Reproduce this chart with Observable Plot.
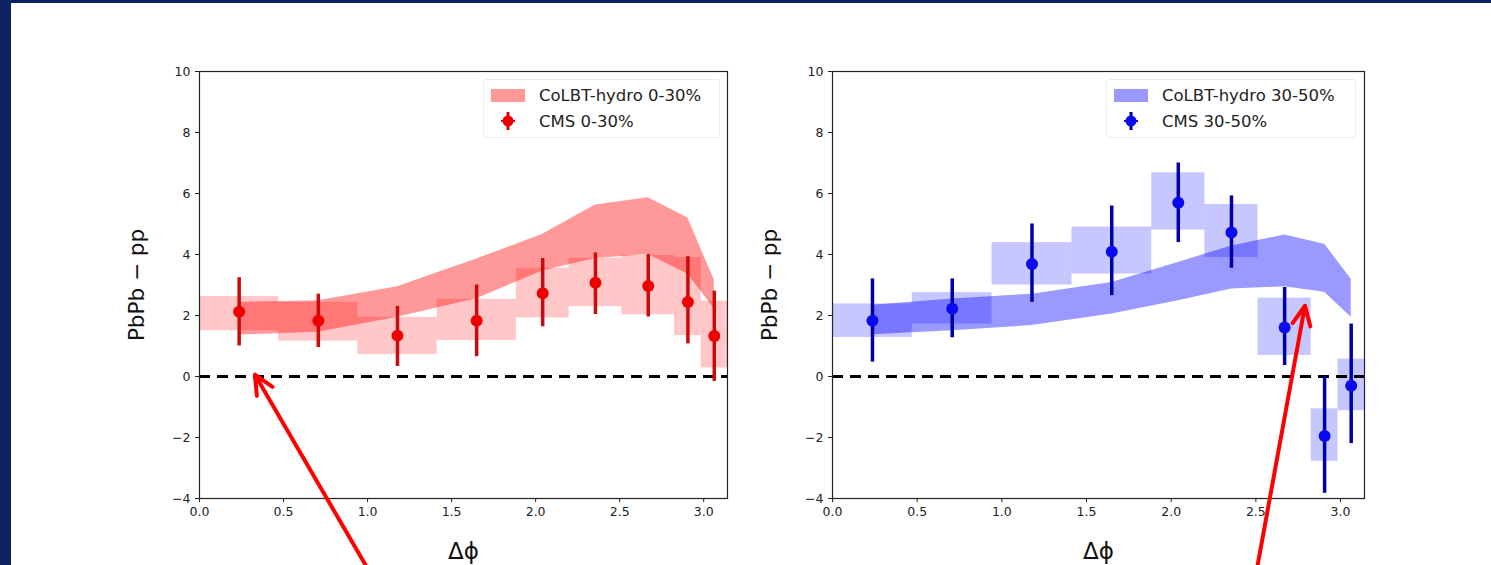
<!DOCTYPE html>
<html>
<head>
<meta charset="utf-8">
<script src="https://cdn.jsdelivr.net/npm/d3@7"></script>
<script src="https://cdn.jsdelivr.net/npm/@observablehq/plot@0.6"></script>
<style>
  html, body { margin: 0; padding: 0; }
  body { width: 1491px; height: 565px; background: #0b2263; position: relative; overflow: hidden; font-family: "DejaVu Sans", sans-serif; }
  #page { position: absolute; left: 11px; top: 3px; width: 1480px; height: 562px; background: #fff; }
  .panel { position: absolute; top: 40px; }
  .panel svg { overflow: visible; }
  .legend { position: absolute; border: 1px solid #ececec; border-radius: 3px; background: rgba(255,255,255,0.85); font-size: 16.5px; color: #222; }
  .legend .row { position: absolute; left: 0; height: 20px; display: flex; align-items: center; white-space: nowrap; }
  .legend svg { display: block; }
</style>
</head>
<body>
<div id="page"></div>
<div id="p1" class="panel" style="left:100px"></div>
<div id="p2" class="panel" style="left:733px"></div>
<script>
// ---- data ----
const binEdges = [0, 0.471, 0.942, 1.414, 1.885, 2.199, 2.513, 2.827, 2.985, 3.1416];
const binCenters = [0.236, 0.707, 1.178, 1.649, 2.042, 2.356, 2.670, 2.906, 3.063];

// CMS 0-30%
const cms030 = [2.12, 1.83, 1.34, 1.83, 2.73, 3.07, 2.97, 2.44, 1.33];
const cms030StatLo = [1.0, 0.95, 0.33, 0.65, 1.63, 2.03, 1.95, 1.07, -0.16];
const cms030StatHi = [3.24, 2.7, 2.3, 3.0, 3.87, 4.05, 4.0, 3.93, 2.8];
const cms030SysLo = [1.5, 1.16, 0.72, 1.18, 1.92, 2.29, 2.02, 1.34, 0.28];
const cms030SysHi = [2.62, 2.43, 1.94, 2.53, 3.55, 3.88, 3.97, 3.9, 2.47];
// CoLBT-hydro 0-30%
const colbt030Lo = [1.36, 1.45, 1.94, 2.55, 3.46, 3.87, 4.0, 3.35, 2.22];
const colbt030Hi = [2.43, 2.48, 2.94, 3.85, 4.66, 5.62, 5.86, 5.2, 3.16];

// CMS 30-50%
const cms3050 = [1.83, 2.22, 3.69, 4.09, 5.7, 4.72, 1.61, -1.95, -0.3];
const cms3050StatLo = [0.47, 1.27, 2.43, 2.65, 4.39, 3.55, 0.36, -3.83, -2.2];
const cms3050StatHi = [3.2, 3.2, 5.0, 5.59, 7.0, 5.92, 2.92, 0.0, 1.72];
const cms3050SysLo = [1.28, 1.72, 3.0, 3.36, 4.8, 3.9, 0.69, -2.78, -1.12];
const cms3050SysHi = [2.38, 2.75, 4.39, 4.9, 6.68, 5.64, 2.57, -1.06, 0.57];
// CoLBT-hydro 30-50%
const colbt3050Lo = [1.37, 1.5, 1.67, 2.05, 2.48, 2.87, 2.94, 2.76, 1.94];
const colbt3050Hi = [2.34, 2.54, 2.7, 3.08, 3.74, 4.28, 4.64, 4.34, 3.19];

const xTicks = [0, 0.5, 1.0, 1.5, 2.0, 2.5, 3.0];
const yTicks = [-4, -2, 0, 2, 4, 6, 8, 10];
const yLabel = "PbPb − pp";
const xLabel = "Δϕ";
const legendLeft = ["CoLBT-hydro 0-30%", "CMS 0-30%"];
const legendRight = ["CoLBT-hydro 30-50%", "CMS 30-50%"];

// annotation arrows (data coordinates: tail -> tip)
const arrowLeftX = [0.99, 0.33], arrowLeftY = [-6.2, 0.06];
const arrowRightX = [2.51, 2.79], arrowRightY = [-6.2, 2.32];

function rowsFor(v, sLo, sHi, yLo, yHi, bLo, bHi) {
  return binCenters.map((c, i) => ({
    c, lo: binEdges[i], hi: binEdges[i + 1],
    v: v[i], statLo: sLo[i], statHi: sHi[i], sysLo: yLo[i], sysHi: yHi[i],
    bandLo: bLo[i], bandHi: bHi[i]
  }));
}

function panel(rows, opts) {
  return Plot.plot({
    width: opts.width, height: 525,
    marginLeft: 99, marginRight: opts.marginRight, marginTop: 31, marginBottom: 67,
    x: {domain: [0, Math.PI]},
    y: {domain: [-4, 10]},
    style: {fontFamily: "DejaVu Sans", fontSize: "12.5px", color: "#222", background: "transparent", overflow: "visible"},
    marks: [
      Plot.rect(rows, {x1: "lo", x2: "hi", y1: "sysLo", y2: "sysHi", fill: opts.color, fillOpacity: 0.22}),
      Plot.areaY(rows, {x: "c", y1: "bandLo", y2: "bandHi", fill: opts.color, fillOpacity: 0.4}),
      Plot.ruleY([0], {stroke: "black", strokeWidth: 3, strokeDasharray: "11,7"}),
      Plot.ruleX(rows, {x: "c", y1: "statLo", y2: "statHi", stroke: opts.barColor, strokeWidth: 3.5}),
      Plot.dot(rows, {x: "c", y: "v", r: 6, fill: opts.dotColor, stroke: "none"}),
      Plot.frame({stroke: "#222", strokeWidth: 1.2}),
      Plot.axisX({ticks: xTicks, tickSize: 4, tickPadding: 5, tickFormat: d3.format(".1f"), label: null}),
      Plot.axisY({ticks: yTicks, tickSize: 4, tickPadding: 5, tickFormat: d3.format("d"), label: null}),
      Plot.text([yLabel], {frameAnchor: "left", textAnchor: "middle", lineAnchor: "middle", rotate: -90, dx: -62, fontSize: 21.5, fill: "#111"}),
      Plot.text([xLabel], {frameAnchor: "bottom", textAnchor: "middle", lineAnchor: "middle", dy: 53, fontSize: 23, fill: "#111"}),
      Plot.arrow([0], {x1: () => opts.ax[0], y1: () => opts.ay[0], x2: () => opts.ax[1], y2: () => opts.ay[1],
        stroke: "#ff0000", strokeWidth: 4, headLength: 8, headAngle: 50, clip: false})
    ]
  });
}

const rows030 = rowsFor(cms030, cms030StatLo, cms030StatHi, cms030SysLo, cms030SysHi, colbt030Lo, colbt030Hi);
const rows3050 = rowsFor(cms3050, cms3050StatLo, cms3050StatHi, cms3050SysLo, cms3050SysHi, colbt3050Lo, colbt3050Hi);

document.getElementById("p1").append(panel(rows030, {
  width: 640, marginRight: 13, color: "#ff0000", barColor: "#cc0a0a", dotColor: "#ee0000",
  ax: arrowLeftX, ay: arrowLeftY
}));
document.getElementById("p2").append(panel(rows3050, {
  width: 645, marginRight: 14, color: "#0000ff", barColor: "#0000a8", dotColor: "#0a0aee",
  ax: arrowRightX, ay: arrowRightY
}));

function legend(left, width, labels, patchColor, barColor, dotColor) {
  const div = document.createElement("div");
  div.className = "legend";
  div.style.left = left + "px"; div.style.top = "79px";
  div.style.width = width + "px"; div.style.height = "57px";
  div.innerHTML = `
    <div class="row" style="top:5px">
      <svg width="48" height="20" style="margin-left:7px"><rect x="0" y="4" width="34" height="13" fill="${patchColor}" fill-opacity="0.4"/></svg>
      <span>${labels[0]}</span>
    </div>
    <div class="row" style="top:31px">
      <svg width="48" height="20" style="margin-left:7px">
        <line x1="17" x2="17" y1="1" y2="19" stroke="${barColor}" stroke-width="3"/>
        <line x1="10" x2="24" y1="10" y2="10" stroke="${dotColor}" stroke-width="2"/>
        <circle cx="17" cy="10" r="5.5" fill="${dotColor}"/>
      </svg>
      <span>${labels[1]}</span>
    </div>`;
  document.body.append(div);
}
legend(483, 235, legendLeft, "#ff0000", "#cc0a0a", "#ee0000");
legend(1106, 248, legendRight, "#0000ff", "#0000a8", "#0a0aee");
</script>
</body>
</html>
